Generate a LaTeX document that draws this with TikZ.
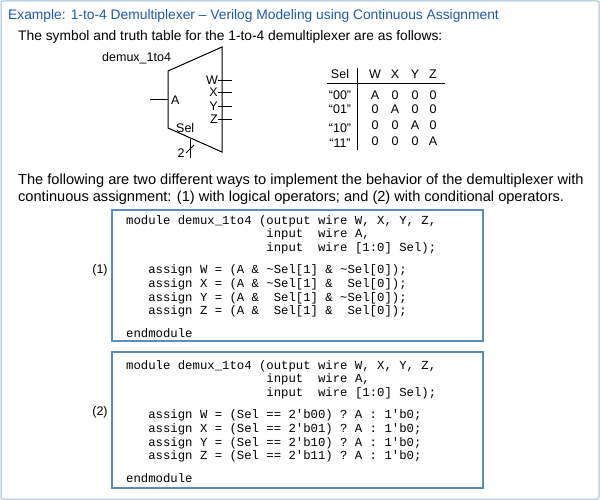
\documentclass[tikz,border=0pt]{standalone}
\usepackage{fontspec}
\setmainfont{Liberation Sans}
\setmonofont{Liberation Mono}
\definecolor{ttl}{RGB}{30,90,170}
\definecolor{frm}{RGB}{90,140,190}
\begin{document}
\begin{tikzpicture}[x=1pt,y=-1pt,
  txt/.style={anchor=base west,inner sep=0pt,font=\fontsize{13.8}{16}\selectfont},
  ptxt/.style={anchor=base west,inner sep=0pt,font=\fontsize{14.6}{16}\selectfont},
  sm/.style={anchor=base,inner sep=0pt,font=\fontsize{12.5}{14}\selectfont},
  code/.style={anchor=north west,inner sep=0pt,align=left,font=\fontsize{12.3}{13.6}\ttfamily},
  codebox/.style={draw=frm,line width=1.2pt},
  wire/.style={line width=1pt}]
\useasboundingbox (0,0) rectangle (600,500);
\draw[frm!60,line width=1pt,rounded corners=2pt] (1,1) rectangle (599,499);
\node[txt,text=ttl] (title) at (8,20) {Example: 1-to-4 Demultiplexer -- Verilog Modeling using Continuous Assignment};
\node[txt] (l1) at (18,41) {The symbol and truth table for the 1-to-4 demultiplexer are as follows:};
% symbol
\node[sm,anchor=base west] (name) at (102,62) {demux\_1to4};
\draw[wire] (168,71) -- (222,47) -- (222,152) -- (168,128) -- cycle;
\coordinate (ain) at (150,100); \coordinate (aend) at (168,100);
\draw[wire] (ain) -- (aend);
\node[sm,anchor=base west] (A) at (171,105) {A};
\foreach \n/\y in {W/81,X/93,Y/107,Z/120}{
  \coordinate (o\n) at (232,\y); \coordinate (s\n) at (218,\y);
  \draw[wire] (s\n) -- (o\n);
  \node[sm,anchor=base east] (L\n) at (218,\y+4) {\n};
}
\node[sm,anchor=base west] (sel) at (176,133) {Sel};
\coordinate (s1) at (190,139); \coordinate (s2) at (190,158);
\draw[wire] (s1) -- (s2);
\draw[wire] (186,153) -- (194,145);
\node[sm] (two) at (181,158) {2};
% truth table
\foreach \t/\x in {Sel/340,W/375,X/395,Y/415,Z/433}{\node[sm] (h\t) at (\x,79) {\t};}
\draw[line width=0.8pt] (327,83) -- (445,83);
\draw[line width=0.8pt] (357,68) -- (357,150);
\node[sm] (r1) at (340,100) {``00''};
\node[sm] (r2) at (340,114) {``01''};
\node[sm] (r3) at (340,133) {``10''};
\node[sm] (r4) at (340,148) {``11''};
\foreach \a/\b/\c/\d/\y in {A/0/0/0/100,0/A/0/0/114,0/0/A/0/130,0/0/0/A/146}{
  \node[sm] at (375,\y) {\a};\node[sm] at (395,\y) {\b};
  \node[sm] at (415,\y) {\c};\node[sm] at (433,\y) {\d};}
\node[ptxt] (p1) at (18,185) {The following are two different ways to implement the behavior of the demultiplexer with};
\node[ptxt] (p2) at (18,201) {continuous assignment: (1) with logical operators; and (2) with conditional operators.};
% boxes
\draw[codebox] (112,210) rectangle (483,341);
\node[sm] (n1) at (100,273) {(1)};
\node[code] (c1) at (126,215) {module demux\_1to4 (output wire W, X, Y, Z,\\
\ \ \ \ \ \ \ \ \ \ \ \ \ \ \ \ \ \ \ input\ \ wire A,\\
\ \ \ \ \ \ \ \ \ \ \ \ \ \ \ \ \ \ \ input\ \ wire [1:0] Sel);\\[9pt]
\ \ \ assign W = (A \& \textasciitilde Sel[1] \& \textasciitilde Sel[0]);\\
\ \ \ assign X = (A \& \textasciitilde Sel[1] \&\ \ Sel[0]);\\
\ \ \ assign Y = (A \&\ \ Sel[1] \& \textasciitilde Sel[0]);\\
\ \ \ assign Z = (A \&\ \ Sel[1] \&\ \ Sel[0]);\\[9pt]
endmodule};
\draw[codebox] (112,352) rectangle (483,488);
\node[sm] (n2) at (100,415) {(2)};
\node[code] (c2) at (126,360) {module demux\_1to4 (output wire W, X, Y, Z,\\
\ \ \ \ \ \ \ \ \ \ \ \ \ \ \ \ \ \ \ input\ \ wire A,\\
\ \ \ \ \ \ \ \ \ \ \ \ \ \ \ \ \ \ \ input\ \ wire [1:0] Sel);\\[9pt]
\ \ \ assign W = (Sel == 2'b00) ? A : 1'b0;\\
\ \ \ assign X = (Sel == 2'b01) ? A : 1'b0;\\
\ \ \ assign Y = (Sel == 2'b10) ? A : 1'b0;\\
\ \ \ assign Z = (Sel == 2'b11) ? A : 1'b0;\\[9pt]
endmodule};
\end{tikzpicture}
\end{document}
